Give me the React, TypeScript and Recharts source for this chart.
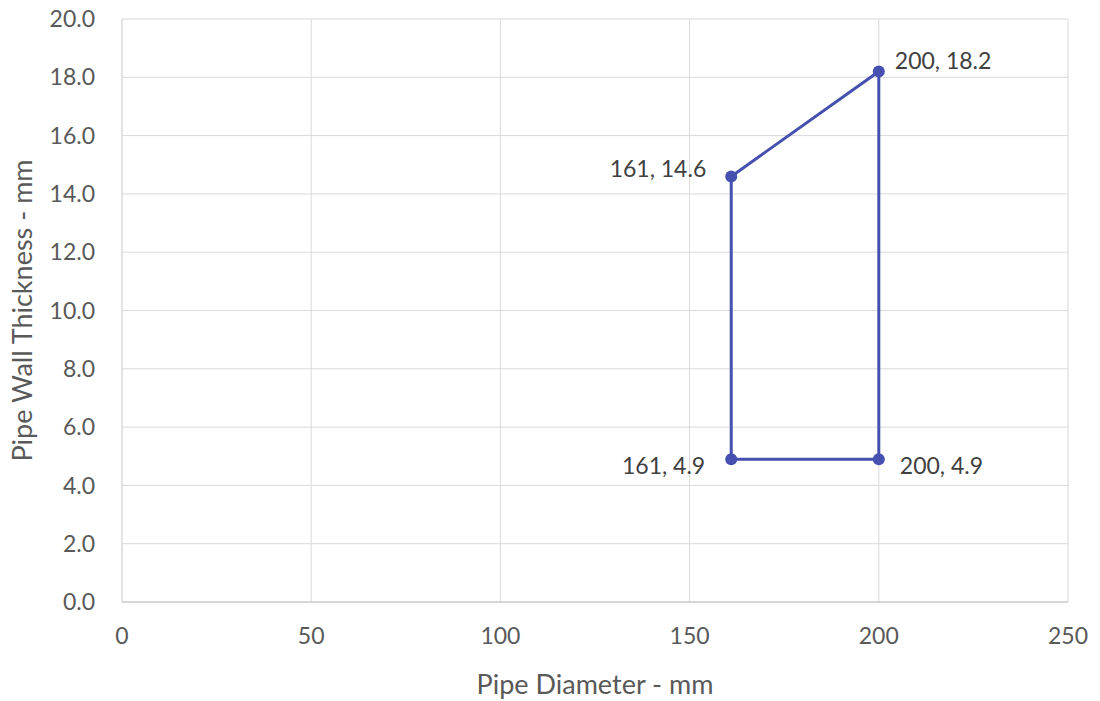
import { ScatterChart, Scatter, XAxis, YAxis, CartesianGrid, Label } from 'recharts';

// values
const diameters = [161, 200, 200, 161];
const thickness = [14.6, 18.2, 4.9, 4.9];
const xTicks = [0, 50, 100, 150, 200, 250];
const yTicks = [0, 2, 4, 6, 8, 10, 12, 14, 16, 18, 20];

// where each point's label sits (style only)
const labelSide = ['left', 'right', 'right', 'left'];
const labelDx = [25, 16, 21, 26];
const labelDy = [-8, -11, 6, 6];

const points = diameters.map((d, i) => ({ d, t: thickness[i], i }));
const outline = [...points, points[0]];

const LINE = '#4650b0';
const AXIS_TEXT = '#595959';

function PointMark(props: any) {
  const { cx, cy, payload } = props;
  const i = payload.i;
  const left = labelSide[i] === 'left';
  return (
    <g>
      <circle cx={cx} cy={cy} r={6} fill={LINE} />
      <text
        x={left ? cx - labelDx[i] : cx + labelDx[i]}
        y={cy + labelDy[i]}
        textAnchor={left ? 'end' : 'start'}
        dominantBaseline="central"
        fontSize={23}
        fill="#404040"
      >
        {`${payload.d}, ${payload.t}`}
      </text>
    </g>
  );
}

function YTitle(props: any) {
  const { viewBox } = props;
  const x = viewBox.x + 21;
  const y = viewBox.y + viewBox.height / 2;
  return (
    <text x={x} y={y} transform={`rotate(-90, ${x}, ${y})`} textAnchor="middle" dominantBaseline="central" fontSize={27} fill={AXIS_TEXT}>
      Pipe Wall Thickness - mm
    </text>
  );
}

function XTitle(props: any) {
  const { viewBox } = props;
  const x = viewBox.x + viewBox.width / 2;
  return (
    <text x={x} y={683} textAnchor="middle" dominantBaseline="central" fontSize={27} fill={AXIS_TEXT}>
      Pipe Diameter - mm
    </text>
  );
}

export default function App() {
  return (
    <div style={{ position: 'absolute', left: 0, top: 0, width: 1100, height: 701, background: '#fff', fontFamily: 'Lato, "Open Sans", sans-serif' }}>
      <ScatterChart width={1100} height={701} margin={{ top: 19, right: 32, left: 0, bottom: 0 }}>
        <CartesianGrid stroke="#d9d9d9" />
        <XAxis
          type="number"
          dataKey="d"
          domain={[0, 250]}
          ticks={xTicks}
          height={99}
          tickLine={false}
          axisLine={{ stroke: '#bfbfbf' }}
          tick={{ fill: AXIS_TEXT, fontSize: 23 }}
          tickMargin={20}
        >
          <Label content={XTitle} />
        </XAxis>
        <YAxis
          type="number"
          dataKey="t"
          domain={[0, 20]}
          ticks={yTicks}
          width={122}
          tickLine={false}
          axisLine={{ stroke: '#d9d9d9' }}
          tick={{ fill: AXIS_TEXT, fontSize: 23 }}
          tickMargin={21}
          tickFormatter={(v: number) => v.toFixed(1)}
        >
          <Label content={YTitle} />
        </YAxis>
        <Scatter
          data={outline}
          line={{ stroke: LINE, strokeWidth: 3 }}
          lineType="joint"
          shape={() => <g />}
          isAnimationActive={false}
        />
        <Scatter data={points} shape={PointMark} isAnimationActive={false} />
      </ScatterChart>
    </div>
  );
}
